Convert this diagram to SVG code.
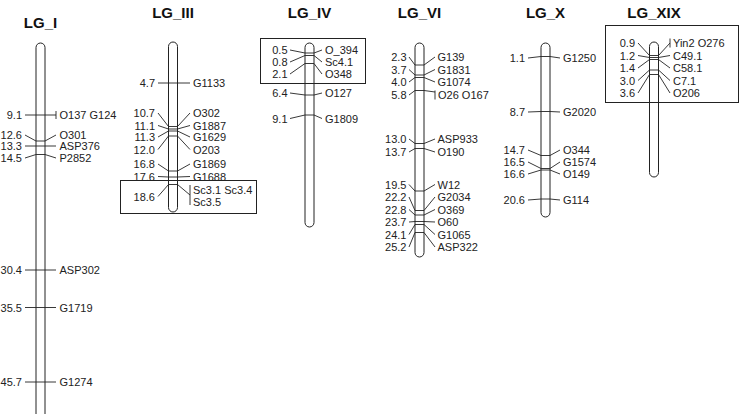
<svg xmlns="http://www.w3.org/2000/svg" width="745" height="414" viewBox="0 0 745 414">
<style>
text{font-family:"Liberation Sans",Arial,sans-serif;font-size:11px;fill:#222}
.t{font-size:15px;font-weight:bold;text-anchor:middle;fill:#111}
.l{text-anchor:end}
.chr{fill:#fff;stroke:#222;stroke-width:1}
.c polyline,.c path{fill:none;stroke:#222;stroke-width:0.9}
.box{fill:none;stroke:#222;stroke-width:1}
</style>
<rect width="745" height="414" fill="#fff"/>
<g id="LG_I">
<text class="t" x="40.5" y="28">LG_I</text>
<rect class="chr" x="36" y="43" width="9" height="400" rx="4.5"/>
<text class="l" x="22" y="119">9.1</text><text x="59.5" y="119">O137 G124</text>
<text class="l" x="22" y="139">12.6</text><text x="59.5" y="139">O301</text>
<text class="l" x="22" y="150">13.3</text><text x="59.5" y="150">ASP376</text>
<text class="l" x="22" y="162">14.5</text><text x="59.5" y="162">P2852</text>
<text class="l" x="22" y="274">30.4</text><text x="59.5" y="274">ASP302</text>
<text class="l" x="22" y="311.5">35.5</text><text x="59.5" y="311.5">G1719</text>
<text class="l" x="22" y="386">45.7</text><text x="59.5" y="386">G1274</text>
</g>
<g id="LG_III">
<text class="t" x="173" y="18">LG_III</text>
<rect class="chr" x="168.5" y="42" width="9" height="170" rx="4.5"/>
<text class="l" x="155" y="87">4.7</text><text x="193" y="87">G1133</text>
<text class="l" x="155" y="117">10.7</text><text x="193" y="117">O302</text>
<text class="l" x="155" y="129.5">11.1</text><text x="193" y="129.5">G1887</text>
<text class="l" x="155" y="141">11.3</text><text x="193" y="141">G1629</text>
<text class="l" x="155" y="153.5">12.0</text><text x="193" y="153.5">O203</text>
<text class="l" x="155" y="168">16.8</text><text x="193" y="168">G1869</text>
<text class="l" x="155" y="180.5">17.6</text><text x="193" y="180.5">G1688</text>
<text class="l" x="155" y="200.5">18.6</text><text x="193" y="193.5">Sc3.1 Sc3.4</text><text x="193" y="205.5">Sc3.5</text>
</g>
<g id="LG_IV">
<text class="t" x="309.5" y="18">LG_IV</text>
<rect class="chr" x="305" y="43" width="9" height="184" rx="4.5"/>
<text class="l" x="287.5" y="54">0.5</text><text x="325" y="54">O_394</text>
<text class="l" x="287.5" y="66">0.8</text><text x="325" y="66">Sc4.1</text>
<text class="l" x="287.5" y="78">2.1</text><text x="325" y="78">O348</text>
<text class="l" x="287.5" y="97">6.4</text><text x="325" y="97">O127</text>
<text class="l" x="287.5" y="122.5">9.1</text><text x="325" y="122.5">G1809</text>
</g>
<g id="LG_VI">
<text class="t" x="419.5" y="18">LG_VI</text>
<rect class="chr" x="415" y="43" width="9" height="214" rx="4.5"/>
<text class="l" x="406.5" y="61">2.3</text><text x="437.5" y="61">G139</text>
<text class="l" x="406.5" y="73.5">3.7</text><text x="437.5" y="73.5">G1831</text>
<text class="l" x="406.5" y="86">4.0</text><text x="437.5" y="86">G1074</text>
<text class="l" x="406.5" y="99">5.8</text><text x="438" y="99">O26 O167</text>
<text class="l" x="406.5" y="143">13.0</text><text x="437.5" y="143">ASP933</text>
<text class="l" x="406.5" y="156">13.7</text><text x="437.5" y="156">O190</text>
<text class="l" x="406.5" y="188.5">19.5</text><text x="437.5" y="188.5">W12</text>
<text class="l" x="406.5" y="201">22.2</text><text x="437.5" y="201">G2034</text>
<text class="l" x="406.5" y="213.5">22.8</text><text x="437.5" y="213.5">O369</text>
<text class="l" x="406.5" y="226">23.7</text><text x="437.5" y="226">O60</text>
<text class="l" x="406.5" y="238.5">24.1</text><text x="437.5" y="238.5">G1065</text>
<text class="l" x="406.5" y="251">25.2</text><text x="437.5" y="251">ASP322</text>
</g>
<g id="LG_X">
<text class="t" x="545.5" y="18">LG_X</text>
<rect class="chr" x="541" y="43" width="9" height="174" rx="4.5"/>
<text class="l" x="525" y="62">1.1</text><text x="563" y="62">G1250</text>
<text class="l" x="525" y="116">8.7</text><text x="563" y="116">G2020</text>
<text class="l" x="525" y="154">14.7</text><text x="563" y="154">O344</text>
<text class="l" x="525" y="166">16.5</text><text x="563" y="166">G1574</text>
<text class="l" x="525" y="178">16.6</text><text x="563" y="178">O149</text>
<text class="l" x="525" y="204">20.6</text><text x="563" y="204">G114</text>
</g>
<g id="LG_XIX">
<text class="t" x="654" y="18">LG_XIX</text>
<rect class="chr" x="649.5" y="42" width="9" height="135" rx="4.5"/>
<text class="l" x="635" y="47">0.9</text><text x="673" y="47">Yin2 O276</text>
<text class="l" x="635" y="59.5">1.2</text><text x="673" y="59.5">C49.1</text>
<text class="l" x="635" y="72">1.4</text><text x="673" y="72">C58.1</text>
<text class="l" x="635" y="84.5">3.0</text><text x="673" y="84.5">C7.1</text>
<text class="l" x="635" y="97">3.6</text><text x="673" y="97">O206</text>
</g>
<g id="connectors" class="c">
<polyline points="25,115 36,115 45,115 56,115"/><path d="M56,111V119"/>
<polyline points="25,135 36,141 45,141 56,135"/>
<polyline points="25,146 36,146 45,146 56,146"/>
<polyline points="25,158 36,154.5 45,154.5 56,158"/>
<polyline points="25,270 36,270 45,270 56,270"/>
<polyline points="25,307.5 36,307.5 45,307.5 56,307.5"/>
<polyline points="25,382 36,382 45,382 56,382"/>

<polyline points="158,83 168.5,83 177.5,83 190,83"/>
<polyline points="158,113 168.5,126.5 177.5,126.5 190,113"/>
<polyline points="158,125.5 168.5,129 177.5,129 190,125.5"/>
<polyline points="158,137 168.5,131 177.5,131 190,137"/>
<polyline points="158,149.5 168.5,136 177.5,136 190,149.5"/>
<polyline points="158,164 168.5,171 177.5,171 190,164"/>
<polyline points="158,176.5 168.5,177 177.5,177 190,176.5"/>
<polyline points="158,196.5 168.5,184.5 177.5,184.5 190,195"/><path d="M190,185V205"/>

<polyline points="290,50 305,53 314,53 322,50"/>
<polyline points="290,62 305,55.5 314,55.5 322,62"/>
<polyline points="290,74 305,63.5 314,63.5 322,74"/>
<polyline points="290,93 305,95 314,95 322,93"/>
<polyline points="290,118.5 305,115 314,115 322,118.5"/>

<polyline points="409,57 415,65 424,65 435,57"/>
<polyline points="409,69.5 415,75 424,75 435,69.5"/>
<polyline points="409,82 415,77.5 424,77.5 435,82"/>
<polyline points="409,95 415,90.5 424,90.5 435,92"/><path d="M435,90.5V99.5"/>
<polyline points="409,139 415,143.5 424,143.5 435,139"/>
<polyline points="409,152 415,148.5 424,148.5 435,152"/>
<polyline points="409,184.5 415,191 424,191 435,184.5"/>
<polyline points="409,197 415,210.5 424,210.5 435,197"/>
<polyline points="409,209.5 415,215 424,215 435,209.5"/>
<polyline points="409,222 415,221.5 424,221.5 435,222"/>
<polyline points="409,234.5 415,224.5 424,224.5 435,234.5"/>
<polyline points="409,247 415,232.5 424,232.5 435,247"/>

<polyline points="528,58 541,56.5 550,56.5 560,58"/>
<polyline points="528,112 541,111.5 550,111.5 560,112"/>
<polyline points="528,150 541,155.5 550,155.5 560,150"/>
<polyline points="528,162 541,168.5 550,168.5 560,162"/>
<polyline points="528,174 541,170 550,170 560,174"/>
<polyline points="528,200 541,199 550,199 560,200"/>

<polyline points="638,43 649.5,55.5 658.5,55.5 670,43"/><path d="M670,38.5V47.5"/>
<polyline points="638,55.5 649.5,57.5 658.5,57.5 670,55.5"/>
<polyline points="638,68 649.5,59.5 658.5,59.5 670,68"/>
<polyline points="638,80.5 649.5,70 658.5,70 670,80.5"/>
<polyline points="638,93 649.5,74.5 658.5,74.5 670,93"/>
</g>
<g id="boxes">
<rect class="box" x="120.5" y="180.5" width="136" height="33"/>
<rect class="box" x="260.5" y="38.5" width="105" height="45"/>
<rect class="box" x="605.5" y="25.5" width="133" height="77"/>
</g>
</svg>
